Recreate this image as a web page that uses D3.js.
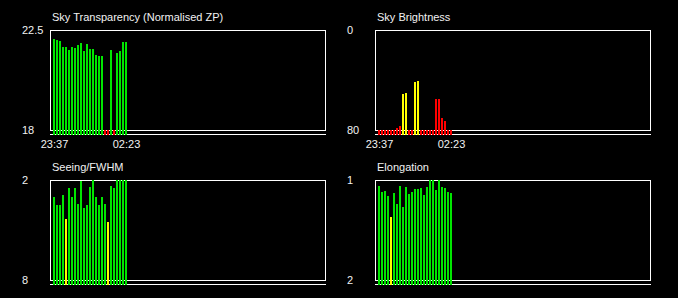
<!DOCTYPE html>
<head>
<style>
body {
  margin: 0;
  background: #000;
}
text {
  fill: #f2f2f2;
  font: 11px "Liberation Sans", Arial, sans-serif;
}
rect.frame, line.base {
  fill: none;
  stroke: #fff;
  stroke-width: 1px;
}
</style>
<meta charset="utf-8">
<title></title>
</head>
<body>
<script src="https://cdn.jsdelivr.net/npm/d3@7/dist/d3.min.js"></script>
<script>

// one bar per frame, first and last frame times are labelled
var timeLabels = ["23:37", "02:23"];

// flags: g = good, y = marginal, r = bad
var transparency = [22.10, 22.05, 22.00, 21.74, 21.74, 21.60, 21.74, 21.69, 21.83, 21.92,
                    21.56, 21.87, 21.65, 21.65, 21.38, 21.33, 21.33, 17.5, 17.5, 21.60,
                    17.5, 21.47, 21.56, 21.96, 21.96];
var transparencyFlag = "gggggggggggggggggrrgrgggg";

var brightness = [80, 80, 80, 80, 80, 80, 78.2, 76.8, 51, 50.2,
                  80, 80, 41.6, 40.8, 80, 80, 80, 80, 80, 55.2,
                  55.2, 70.4, 72.8, 80, 80];
var brightnessFlag = "rrrrrrrryyrryyrrrrrrrrrrr";

var seeing = [3.02, 3.5, 3.5, 2.9, 4.34, 2.48, 3.02, 2.48, 3.44, 2.06,
              3.68, 3.5, 2.42, 1.9, 3.02, 3.5, 3.02, 3.44, 4.52, 2.36,
              2.48, 1.9, 1.9, 1.9, 1.9];
var seeingFlag = "ggggygggggggggggggygggggg";

var elongation = [1.06, 1.12, 1.11, 1.16, 1.37, 1.13, 1.24, 1.06, 1.27, 1.07,
                  1.14, 1.12, 1.09, 1.09, 1.08, 1.15, 1.07, 0.98, 0.98, 1.10,
                  0.98, 1.07, 1.08, 1.12, 1.13];
var elongationFlag = "ggggyggggggggggggggggggggg";

var flagColour = {g: "#00e600", y: "#ffff00", r: "#ff0000"};

var panels = [
  {title: "Sky Transparency (Normalised ZP)", ticks: ["22.5", "18"], domain: [18, 22.5], values: transparency, flags: transparencyFlag, col: 0, row: 0, times: true},
  {title: "Sky Brightness", ticks: ["0", "80"], domain: [80, 0], values: brightness, flags: brightnessFlag, col: 1, row: 0, times: true},
  {title: "Seeing/FWHM", ticks: ["2", "8"], domain: [8, 2], values: seeing, flags: seeingFlag, col: 0, row: 1, times: false},
  {title: "Elongation", ticks: ["1", "2"], domain: [2, 1], values: elongation, flags: elongationFlag, col: 1, row: 1, times: false}
];

var width = 678,
    height = 298,
    frameW = 275,
    frameH = 100;

var svg = d3.select("body").append("svg")
    .attr("width", width)
    .attr("height", height);

// 3px per frame slot inside the plot box
var x = d3.scaleLinear().domain([0, 91]).range([3, 276]);

var panel = svg.selectAll("g.panel")
    .data(panels)
    .enter().append("g")
    .attr("class", "panel")
    .attr("transform", function(d) {
      return "translate(" + (50 + d.col * 325) + "," + (30 + d.row * 150) + ")";
    });

panel.each(function(p) {
  var g = d3.select(this);
  var y = d3.scaleLinear().domain(p.domain).range([frameH, 0]).clamp(true);

  g.append("text")
    .attr("x", 2)
    .attr("y", -9)
    .text(p.title);

  g.append("rect")
    .attr("class", "frame")
    .attr("x", 0.5)
    .attr("y", 0.5)
    .attr("width", frameW)
    .attr("height", frameH);

  g.append("line")
    .attr("class", "base")
    .attr("x1", 0)
    .attr("x2", frameW + 1)
    .attr("y1", frameH + 4.5)
    .attr("y2", frameH + 4.5);

  g.append("text")
    .attr("x", -28)
    .attr("y", 4)
    .text(p.ticks[0]);

  g.append("text")
    .attr("x", -28)
    .attr("y", frameH + 4)
    .text(p.ticks[1]);

  g.selectAll("rect.bar")
    .data(p.values)
    .enter().append("rect")
    .attr("class", "bar")
    .attr("x", function(d, i) { return x(i); })
    .attr("width", 2)
    .attr("y", function(d) { return Math.round(y(d)); })
    .attr("height", function(d) { return frameH + 5 - Math.round(y(d)); })
    .style("fill", function(d, i) { return flagColour[p.flags[i]]; });

  if (p.times) {
    g.selectAll("text.time")
      .data(timeLabels)
      .enter().append("text")
      .attr("class", "time")
      .attr("text-anchor", "middle")
      .attr("x", function(d, i) { return x(i == 0 ? 0 : p.values.length - 1) + 1.5; })
      .attr("y", frameH + 18)
      .text(function(d) { return d; });
  }
});

</script>
</body>
</html>
